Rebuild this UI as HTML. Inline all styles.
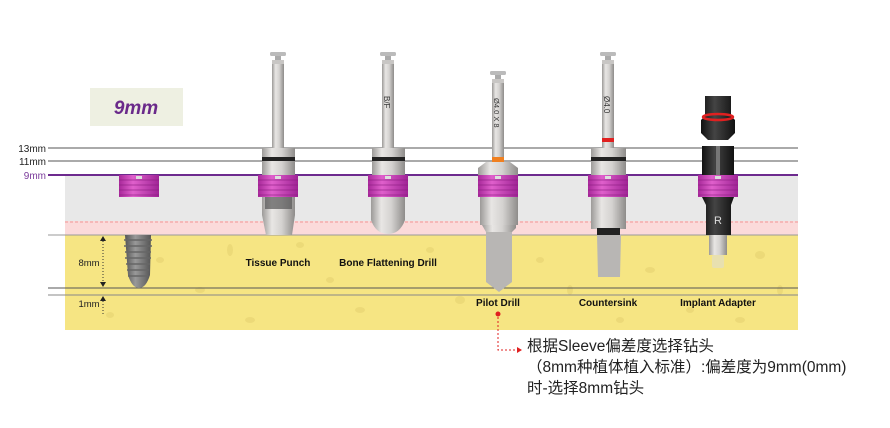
<!DOCTYPE html>
<html><head><meta charset="utf-8"><style>
html,body{margin:0;padding:0;background:#fff;}
svg{display:block;}
text{font-family:"Liberation Sans","Noto Sans CJK SC",sans-serif;}
</style></head><body>
<svg width="890" height="428" viewBox="0 0 890 428" xmlns="http://www.w3.org/2000/svg">
<defs>
<linearGradient id="metal" x1="0" x2="1">
<stop offset="0" stop-color="#9c9a98"/><stop offset="0.3" stop-color="#e8e6e4"/><stop offset="0.6" stop-color="#d4d2d0"/><stop offset="1" stop-color="#8e8c8a"/></linearGradient>
<linearGradient id="mag" x1="0" x2="1">
<stop offset="0" stop-color="#a8289a"/><stop offset="0.35" stop-color="#e060cc"/><stop offset="1" stop-color="#a02496"/></linearGradient>
<linearGradient id="dark" x1="0" x2="1">
<stop offset="0" stop-color="#111"/><stop offset="0.4" stop-color="#444"/><stop offset="1" stop-color="#111"/></linearGradient>
<linearGradient id="imp" x1="0" x2="1">
<stop offset="0" stop-color="#555"/><stop offset="0.4" stop-color="#999"/><stop offset="1" stop-color="#555"/></linearGradient>
<g id="sleeve">
<rect x="-20" y="0" width="40" height="22" fill="url(#mag)"/>
<path d="M-20 5H20M-20 10H20M-20 15H20M-20 20H20" stroke="#8a1c80" stroke-width="1" opacity="0.6"/>
<rect x="-3" y="1" width="6" height="3" fill="#ddd"/>
</g>
<g id="shaft">
<rect x="-8" y="0" width="16" height="4" rx="1.5" fill="#bbb"/>
<rect x="-3" y="4" width="6" height="4" fill="#aaa"/>
<rect x="-6" y="8" width="12" height="4" fill="#c8c6c4"/>
<rect x="-6" y="12" width="12" height="84" fill="url(#metal)"/>
</g>
</defs>

<rect x="65" y="175" width="733" height="47" fill="#e8e8e8"/>
<rect x="65" y="221" width="733" height="14" fill="#fbdada"/>
<path d="M65 222 L798 222" stroke="#f5b8b8" stroke-width="2" stroke-dasharray="3 2"/>
<rect x="65" y="235" width="733" height="95" fill="#f6e583"/>
<g fill="#ead776" opacity="0.8">
<ellipse cx="160" cy="260" rx="4" ry="3"/><ellipse cx="200" cy="290" rx="5" ry="3"/><ellipse cx="230" cy="250" rx="3" ry="6"/>
<ellipse cx="330" cy="280" rx="4" ry="3"/><ellipse cx="360" cy="310" rx="5" ry="3"/><ellipse cx="430" cy="250" rx="4" ry="3"/>
<ellipse cx="460" cy="300" rx="5" ry="4"/><ellipse cx="540" cy="260" rx="4" ry="3"/><ellipse cx="570" cy="290" rx="3" ry="5"/>
<ellipse cx="650" cy="270" rx="5" ry="3"/><ellipse cx="690" cy="310" rx="4" ry="3"/><ellipse cx="760" cy="255" rx="5" ry="4"/>
<ellipse cx="780" cy="290" rx="3" ry="5"/><ellipse cx="110" cy="315" rx="4" ry="3"/><ellipse cx="250" cy="320" rx="5" ry="3"/>
<ellipse cx="300" cy="245" rx="4" ry="3"/><ellipse cx="620" cy="320" rx="4" ry="3"/><ellipse cx="740" cy="320" rx="5" ry="3"/>
</g>

<line x1="48" y1="148" x2="798" y2="148" stroke="#555" stroke-width="1"/>
<line x1="48" y1="161" x2="798" y2="161" stroke="#555" stroke-width="1"/>
<line x1="48" y1="175" x2="798" y2="175" stroke="#6d2a8e" stroke-width="2"/>
<line x1="48" y1="235" x2="798" y2="235" stroke="#999" stroke-width="1"/>
<line x1="48" y1="288" x2="798" y2="288" stroke="#555" stroke-width="1"/>
<line x1="48" y1="295" x2="798" y2="295" stroke="#888" stroke-width="1"/>

<text x="46" y="152" font-size="10" text-anchor="end" fill="#222">13mm</text>
<text x="46" y="165" font-size="10" text-anchor="end" fill="#222">11mm</text>
<text x="46" y="179" font-size="10" text-anchor="end" fill="#7a3a9a">9mm</text>

<rect x="90" y="88" width="93" height="38" fill="#eef0e2"/>
<text x="136" y="114" font-size="19" font-weight="bold" font-style="italic" fill="#6a2a8a" text-anchor="middle" font-family="Liberation Serif,serif">9mm</text>

<line x1="103" y1="238" x2="103" y2="285" stroke="#333" stroke-dasharray="1 2"/>
<path d="M100 241 L103 236 L106 241Z M100 282 L103 287 L106 282Z" fill="#222"/>
<text x="89" y="266" font-size="9.5" text-anchor="middle" fill="#222">8mm</text>
<line x1="103" y1="298" x2="103" y2="316" stroke="#333" stroke-dasharray="1 2"/>
<path d="M100 301 L103 296 L106 301Z" fill="#222"/>
<text x="89" y="307" font-size="9.5" text-anchor="middle" fill="#222">1mm</text>

<use href="#sleeve" x="139" y="175"/>
<path d="M125 235 H151 L150 275 Q146 288 139 288 Q132 288 128 275 Z" fill="url(#imp)"/>
<path d="M124 240H152M124 246H152M125 252H151M125 258H151M126 264H150M127 270H149M128 276H148" stroke="#666" stroke-width="1.5"/>

<use href="#shaft" x="278" y="52"/>
<rect x="262" y="148" width="33" height="27" fill="url(#metal)"/>
<rect x="262" y="157" width="33" height="4" fill="#222"/>
<use href="#sleeve" x="278" y="175"/>
<path d="M262 197 H295 V215 L292 235 H266 L262 215Z" fill="url(#metal)"/>
<rect x="265" y="197" width="27" height="12" fill="#555" opacity="0.7"/>
<text x="278" y="266" font-size="10" font-weight="bold" text-anchor="middle" fill="#111">Tissue Punch</text>

<use href="#shaft" x="388" y="52"/>
<text transform="translate(384 96) rotate(90)" font-size="8" fill="#333">B/F</text>
<rect x="372" y="148" width="33" height="27" fill="url(#metal)"/>
<rect x="372" y="157" width="33" height="4" fill="#222"/>
<use href="#sleeve" x="388" y="175"/>
<path d="M371 197 H405 V220 Q400 234 388 234 Q376 234 371 220Z" fill="url(#metal)"/>
<text x="388" y="266" font-size="10" font-weight="bold" text-anchor="middle" fill="#111">Bone Flattening Drill</text>

<use href="#shaft" x="498" y="71"/>
<text transform="translate(494 98) rotate(90)" font-size="7.5" fill="#333">Ø4.0 X 8</text>
<rect x="492" y="157" width="12" height="5" fill="#f08020"/>
<path d="M478 168 L486 162 H510 L518 168 V175 H478Z" fill="url(#metal)"/>
<use href="#sleeve" x="498" y="175"/>
<rect x="480" y="197" width="38" height="28" fill="url(#metal)"/>
<path d="M482 225 H516 V228 L512 232 H486 Z" fill="url(#metal)"/>
<path d="M486 232 H512 V282 L499 292 L486 282Z" fill="#b8b6b4"/>
<text x="498" y="306" font-size="10" font-weight="bold" text-anchor="middle" fill="#111">Pilot Drill</text>

<use href="#shaft" x="608" y="52"/>
<text transform="translate(604 96) rotate(90)" font-size="8" fill="#333">Ø4.0</text>
<rect x="602" y="138" width="12" height="4" fill="#e02020"/>
<rect x="591" y="148" width="35" height="27" fill="url(#metal)"/>
<rect x="591" y="157" width="35" height="4" fill="#222"/>
<use href="#sleeve" x="608" y="175"/>
<rect x="591" y="197" width="35" height="32" fill="url(#metal)"/>
<rect x="597" y="228" width="23" height="7" fill="#222"/>
<path d="M597 235 H621 L620 277 H598Z" fill="#b8b6b4"/>
<text x="608" y="306" font-size="10" font-weight="bold" text-anchor="middle" fill="#111">Countersink</text>

<path d="M705 96 H731 V116 L735 120 V133 L728 140 H708 L701 133 V120 L705 116Z" fill="url(#dark)"/>
<ellipse cx="718" cy="117" rx="15" ry="3" fill="none" stroke="#e02020" stroke-width="2.5"/>
<rect x="702" y="146" width="32" height="29" fill="url(#dark)"/>
<rect x="716" y="146" width="4" height="29" fill="#777"/>
<use href="#sleeve" x="718" y="175"/>
<path d="M702 197 H734 L731 205 V235 H706 V205Z" fill="url(#dark)"/>
<text x="718" y="224" font-size="11" text-anchor="middle" fill="#ddd">R</text>
<rect x="709" y="235" width="18" height="20" fill="url(#metal)"/>
<rect x="712" y="255" width="12" height="13" rx="2" fill="#e8e0b0"/>
<text x="718" y="306" font-size="10" font-weight="bold" text-anchor="middle" fill="#111">Implant Adapter</text>

<circle cx="498" cy="314" r="2.5" fill="#e02020"/>
<path d="M498 317 V350 H518" fill="none" stroke="#e02020" stroke-width="1" stroke-dasharray="2 2"/>
<path d="M517 347 L522 350 L517 353Z" fill="#e02020"/>
<text x="527" y="351" font-size="15.5" fill="#222">根据Sleeve偏差度选择钻头</text>
<text x="527" y="372" font-size="15.5" fill="#222">（8mm种植体植入标准）:偏差度为9mm(0mm)</text>
<text x="527" y="393" font-size="15.5" fill="#222">时-选择8mm钻头</text>
</svg>
</body></html>
